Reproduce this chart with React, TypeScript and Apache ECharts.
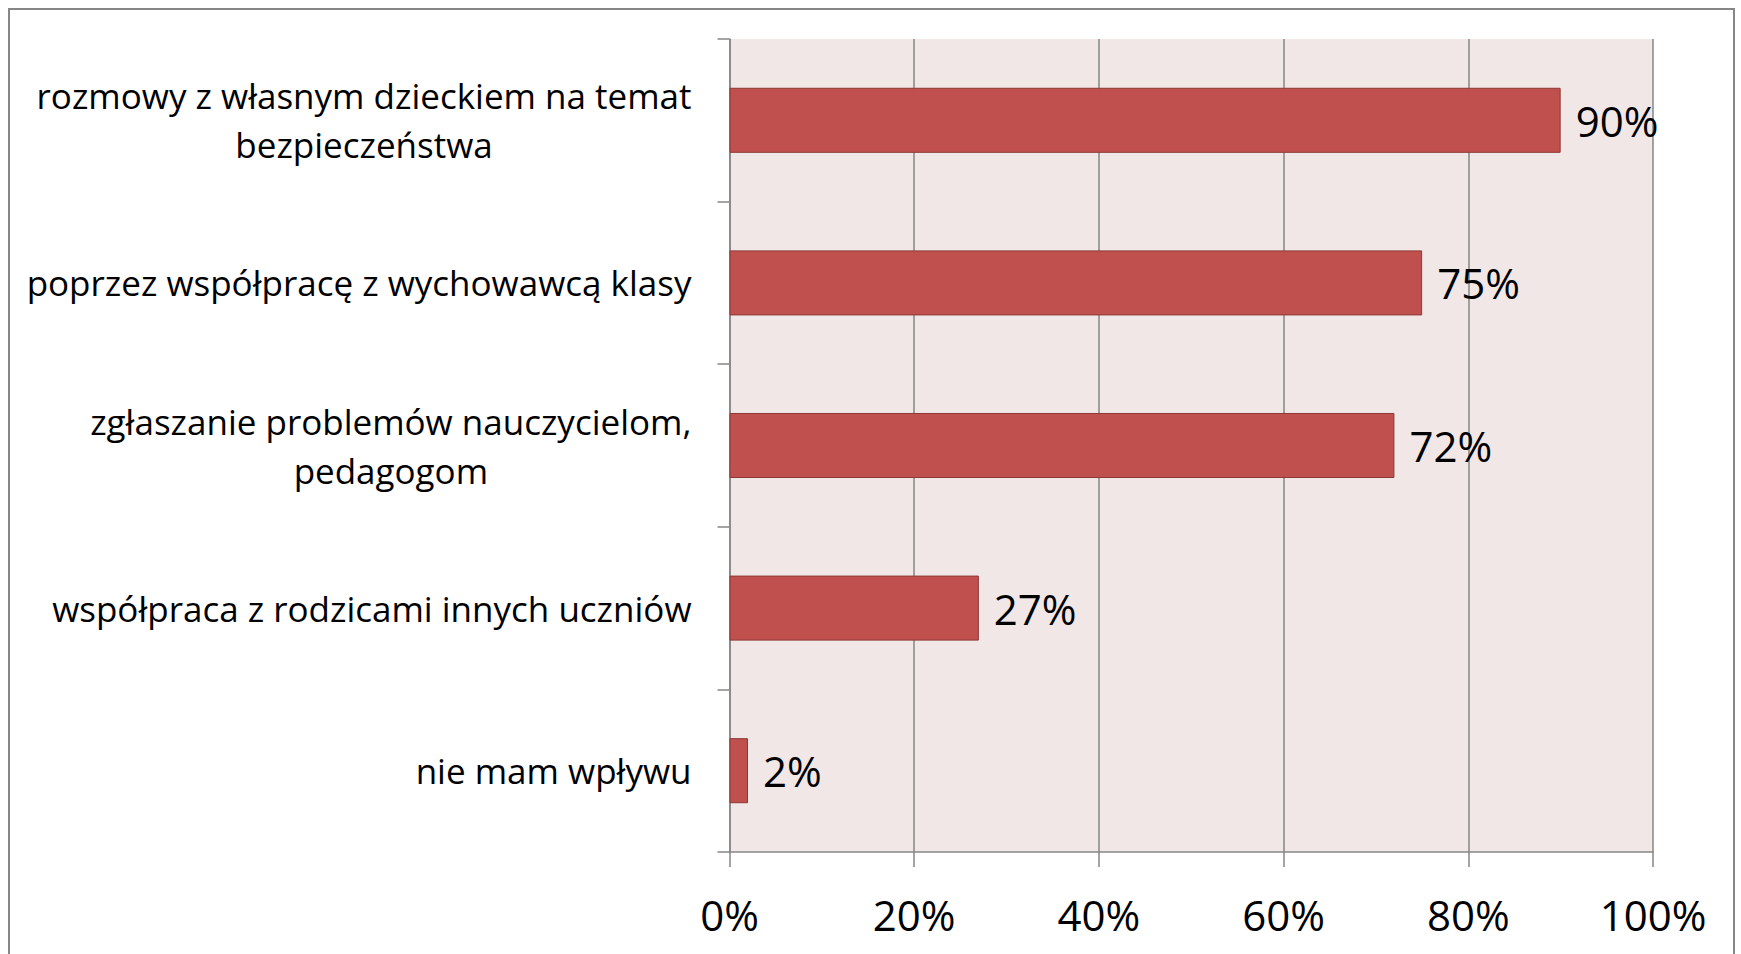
import React, { useEffect, useRef } from "react";
import * as echarts from "echarts";

const categories = [
  "rozmowy z własnym dzieckiem na temat\nbezpieczeństwa",
  "poprzez współpracę z wychowawcą klasy",
  "zgłaszanie problemów nauczycielom,\npedagogom",
  "współpraca z rodzicami innych uczniów",
  "nie mam wpływu",
];
const values = [90, 75, 72, 27, 2];
const axisMin = 0;
const axisMax = 100;
const axisStep = 20;

const FONT = "'Open Sans', 'Noto Sans', sans-serif";
const GRAY = "#868686";

export default function App() {
  const ref = useRef<HTMLDivElement>(null);
  useEffect(() => {
    if (!ref.current) return;
    const chart = echarts.init(ref.current, undefined, { renderer: "svg" });
    chart.setOption({
      animation: false,
      backgroundColor: "#ffffff",
      textStyle: { fontFamily: FONT },
      grid: {
        left: 729.5,
        right: 88,
        top: 39,
        bottom: 102,
        show: true,
        backgroundColor: "#F2E7E7",
        borderWidth: 0,
      },
      graphic: [
        {
          type: "rect",
          shape: { x: 9, y: 9, width: 1725, height: 1100 },
          style: { fill: "none", stroke: GRAY, lineWidth: 2 },
          silent: true,
        },
      ],
      xAxis: {
        type: "value",
        min: axisMin,
        max: axisMax,
        interval: axisStep,
        axisLine: { show: true, lineStyle: { color: GRAY, width: 1.5 } },
        axisTick: { show: true, length: 15, lineStyle: { color: GRAY, width: 1.5 } },
        splitLine: { show: true, lineStyle: { color: GRAY, width: 1.5 } },
        axisLabel: {
          formatter: "{value}%",
          fontSize: 42,
          color: "#000",
          margin: 41,
          fontFamily: FONT,
        },
      },
      yAxis: {
        type: "category",
        inverse: true,
        data: categories,
        axisLine: { show: true, lineStyle: { color: GRAY, width: 1.5 } },
        axisTick: { show: true, length: 12, lineStyle: { color: GRAY, width: 1.5 } },
        splitLine: { show: false },
        axisLabel: {
          color: "#000",
          margin: 38,
          align: "right",
          formatter: (v: string) =>
            v
              .split("\n")
              .map((l) => `{c|${l}}`)
              .join("\n"),
          rich: {
            c: {
              align: "center",
              fontSize: 35,
              lineHeight: 49,
              color: "#000",
              fontFamily: FONT,
            },
          },
        },
      },
      series: [
        {
          type: "bar",
          data: values,
          barCategoryGap: "60%",
          itemStyle: { color: "#C0504D", borderColor: "#8C3836", borderWidth: 1 },
          label: {
            show: true,
            position: "right",
            distance: 15,
            formatter: "{c}%",
            fontSize: 42,
            color: "#000",
            fontFamily: FONT,
          },
        },
      ],
    });
    return () => chart.dispose();
  }, []);
  return (
    <div
      ref={ref}
      style={{ position: "fixed", left: 0, top: 0, width: 1741, height: 954 }}
    />
  );
}
